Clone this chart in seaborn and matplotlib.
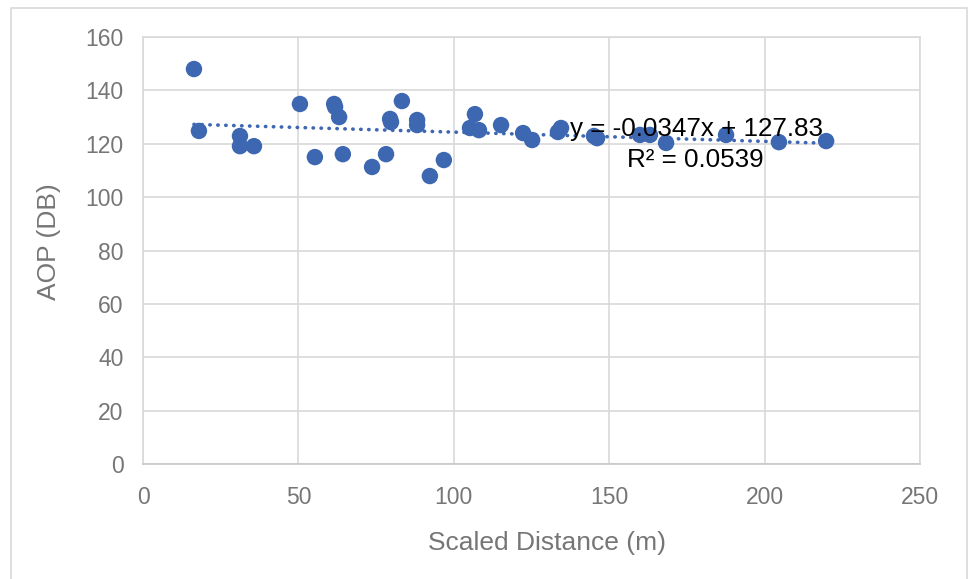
import matplotlib
matplotlib.use("Agg")
import matplotlib.pyplot as plt
import matplotlib.patches as mpatches
import numpy as np
import pandas as pd
import seaborn as sns

# ---- data ----
scaled_distance = [16.4, 18.0, 31.2, 31.2, 35.7, 50.5, 55.3, 61.5, 61.8, 63.1,
                   64.3, 73.7, 78.2, 79.5, 79.8, 83.3, 88.2, 88.2, 92.3, 96.8,
                   105.2, 106.8, 108.1, 115.2, 122.3, 125.2, 133.5, 134.5, 145.1, 146.1,
                   159.9, 163.1, 168.3, 187.6, 204.6, 219.8]
aop_db = [148.0, 124.8, 122.9, 119.1, 119.1, 134.9, 115.0, 134.9, 133.8, 130.0,
          116.1, 111.3, 116.1, 129.3, 128.1, 136.0, 128.9, 127.0, 107.9, 113.9,
          125.9, 131.1, 125.1, 127.0, 124.0, 121.4, 124.4, 125.9, 122.9, 122.1,
          123.3, 123.3, 120.3, 123.3, 120.6, 121.0]
trend_slope = -0.0347
trend_intercept = 127.83
trend_label = "y = -0.0347x + 127.83"
r2_label = "R² = 0.0539"
x_ticks = [0, 50, 100, 150, 200, 250]
y_ticks = [0, 20, 40, 60, 80, 100, 120, 140, 160]

sns.set_style("white")
plt.rcParams['font.family'] = ['Liberation Sans', 'DejaVu Sans']

df = pd.DataFrame({"x": scaled_distance, "y": aop_db})
tx = np.array([min(scaled_distance), max(scaled_distance)])
trend_df = pd.DataFrame({"x": tx, "y": trend_slope * tx + trend_intercept})

fig = plt.figure(figsize=(9.68, 5.79), dpi=100)
ax = fig.add_axes([143/968, 1-464/579, (920-143)/968, (464-37)/579])

blue = '#3E67B2'
grid_c = '#d9d9d9'

sns.lineplot(data=trend_df, x="x", y="y", ax=ax, color=blue, lw=2.6,
             linestyle=(0, (0.1, 2.1)), dash_capstyle='round', zorder=3)
sns.scatterplot(data=df, x="x", y="y", ax=ax, color=blue, s=140,
                edgecolor='none', linewidth=0, zorder=2)

ax.set_xlim(0, 250)
ax.set_ylim(0, 160)
ax.set_xticks(x_ticks)
ax.set_yticks(y_ticks)
ax.grid(True, color=grid_c, lw=1.2)
ax.set_axisbelow(True)
for s in ax.spines.values():
    s.set_color(grid_c)
    s.set_linewidth(1.2)
ax.spines['bottom'].set_color('#c8c8c8')
ax.tick_params(axis='both', length=0, labelsize=16.5, labelcolor='#767676')
ax.tick_params(axis='x', pad=16)
ax.tick_params(axis='y', pad=14)

ax.set_xlabel("Scaled Distance (m)", fontsize=19, color='#767676')
ax.set_ylabel("AOP (DB)", fontsize=19, color='#767676')
ax.xaxis.set_label_coords((547-143)/777, -(543-464)/427)
ax.yaxis.set_label_coords((49-143)/777, (464-242)/427)
ax.xaxis.label.set_va('center')
ax.yaxis.label.set_va('center')

ax.annotate(trend_label, xy=((697-143)/777, (464-129)/427), xycoords='axes fraction',
            ha='center', va='center', fontsize=18.7, color='black', zorder=5)
ax.annotate(r2_label, xy=((695-143)/777, (464-160)/427), xycoords='axes fraction',
            ha='center', va='center', fontsize=18.7, color='black', zorder=5)

fig.patches.append(mpatches.Rectangle((10.5/968, -0.02), (966.5-10.5)/968, 1-7.5/579+0.02,
                                      transform=fig.transFigure, fill=False,
                                      edgecolor=grid_c, lw=1.2))

fig.savefig("out.png", dpi=100)
